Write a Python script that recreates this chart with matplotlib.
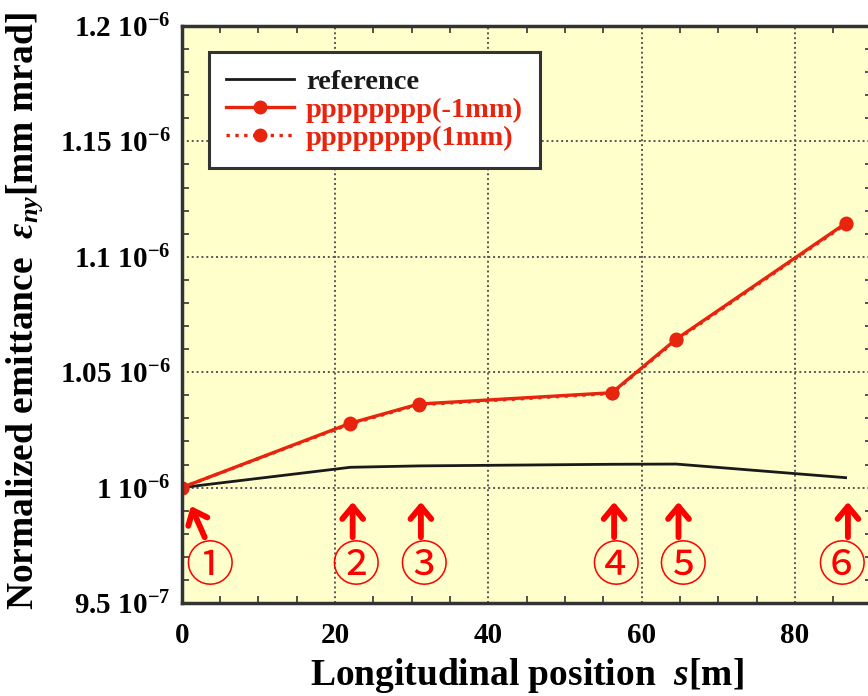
import matplotlib
matplotlib.use("Agg")
import matplotlib.pyplot as plt
from matplotlib.ticker import MultipleLocator, FixedLocator

# Longitudinal positions of the monitor points [m]
s = [0.0, 22.0, 30.9, 56.1, 64.5, 86.6]
# Normalized vertical emittance, in units of 1e-6 mm mrad
eps_reference = [1.0000, 1.0088, 1.0094, 1.0101, 1.0102, 1.0043]
eps_minus_1mm = [1.0000, 1.0279, 1.0362, 1.0411, 1.0643, 1.1145]
eps_plus_1mm = [1.0000, 1.0276, 1.0359, 1.0408, 1.0639, 1.1141]

series_labels = ["reference", "pppppppp(-1mm)", "pppppppp(1mm)"]
y_ticks = [0.95, 1.0, 1.05, 1.1, 1.15, 1.2]
y_tick_labels = [r"9.5 10$^{-7}$", r"1 10$^{-6}$", r"1.05 10$^{-6}$",
                 r"1.1 10$^{-6}$", r"1.15 10$^{-6}$", r"1.2 10$^{-6}$"]
x_ticks = [0, 20, 40, 60, 80]
marker_labels = ["①", "②", "③", "④", "⑤", "⑥"]

RED = "#e8240e"
ARROW_RED = "#ff0000"

plt.rcParams["font.family"] = ["Liberation Serif", "DejaVu Serif"]
plt.rcParams["font.weight"] = "bold"
plt.rcParams["axes.labelweight"] = "bold"
plt.rcParams["mathtext.fontset"] = "custom"
plt.rcParams["mathtext.rm"] = "Liberation Serif:bold"
plt.rcParams["mathtext.bf"] = "Liberation Serif:bold"
plt.rcParams["mathtext.it"] = "Liberation Serif:italic:bold"

W, H = 868, 696
fig = plt.figure(figsize=(W / 100, H / 100), dpi=100)
left_px, top_px, bottom_px = 181.7, 26.0, 603.0
ax = fig.add_axes([left_px / W, (H - bottom_px) / H, 690.0 / W, (bottom_px - top_px) / H])
ax.set_facecolor("#ffffcc")

ax.set_xlim(0, 90)
ax.set_ylim(0.95, 1.2)

ax.plot(s, eps_reference, color="#1a1a1a", lw=2.0, label=series_labels[0], zorder=3)
ax.plot(s, eps_minus_1mm, color=RED, lw=2.4, marker="o", ms=9,
        label=series_labels[1], zorder=4)
ax.plot(s, eps_plus_1mm, color=RED, lw=2.4, ls=":", marker="o", ms=9,
        label=series_labels[2], zorder=4)

# axes decoration
ax.xaxis.set_major_locator(FixedLocator(x_ticks))
ax.xaxis.set_minor_locator(MultipleLocator(5))
ax.yaxis.set_major_locator(FixedLocator(y_ticks))
ax.yaxis.set_minor_locator(MultipleLocator(0.01))
ax.set_yticklabels(y_tick_labels)
ax.set_xticklabels([str(v) for v in x_ticks])
ax.tick_params(which="both", direction="in", top=True, right=True, color="#333333")
ax.tick_params(which="major", length=0, pad=14, labelsize=21)
ax.tick_params(axis="y", which="major", pad=8)
ax.tick_params(which="minor", length=5, width=1.2)
ax.grid(True, which="major", ls=(0, (1, 1.5)), color="#555555", lw=1.4, zorder=1)
for sp in ax.spines.values():
    sp.set_linewidth(2.5)
    sp.set_color("#333333")
    sp.set_zorder(5)

ax.set_xlabel(r"Longitudinal position  $s$[m]", fontsize=27, labelpad=5)
ax.set_ylabel(r"Normalized emittance  $\varepsilon_{ny}$[mm mrad]", fontsize=27)
ax.yaxis.set_label_coords(-0.198, 0.505)

leg = ax.legend(loc="upper left", bbox_to_anchor=(0.0396, 0.955), borderaxespad=0,
                fontsize=20.5, labelcolor="linecolor", fancybox=False, framealpha=1,
                edgecolor="#333333", handlelength=2.4, handletextpad=0.4,
                labelspacing=0.08, borderpad=0.6)
leg.get_frame().set_linewidth(2.2)
leg.set_zorder(6)

# numbered monitor arrows
label_offsets = [3.6, 0.7, 0.6, 0.5, 0.8, -0.5]
arrow_kw = dict(arrowstyle="->,head_length=0.9,head_width=0.75", color=ARROW_RED, lw=4.2,
                shrinkA=0, shrinkB=0)
for i, (xs, lab, dx) in enumerate(zip(s, marker_labels, label_offsets)):
    if i == 0:
        ax.annotate("", xy=(xs + 1.2, 0.9920), xytext=(xs + 3.0, 0.9785),
                    arrowprops=arrow_kw, zorder=6)
    else:
        ax.annotate("", xy=(xs + 0.3, 0.9938), xytext=(xs + 0.3, 0.9785),
                    arrowprops=arrow_kw, zorder=6)
    ax.text(xs + dx, 0.9656, lab, color=ARROW_RED, fontsize=35, ha="center", va="center",
            family=["Noto Sans CJK JP", "DejaVu Sans"], fontweight="normal", zorder=6)

fig.savefig("out.png", dpi=100)
